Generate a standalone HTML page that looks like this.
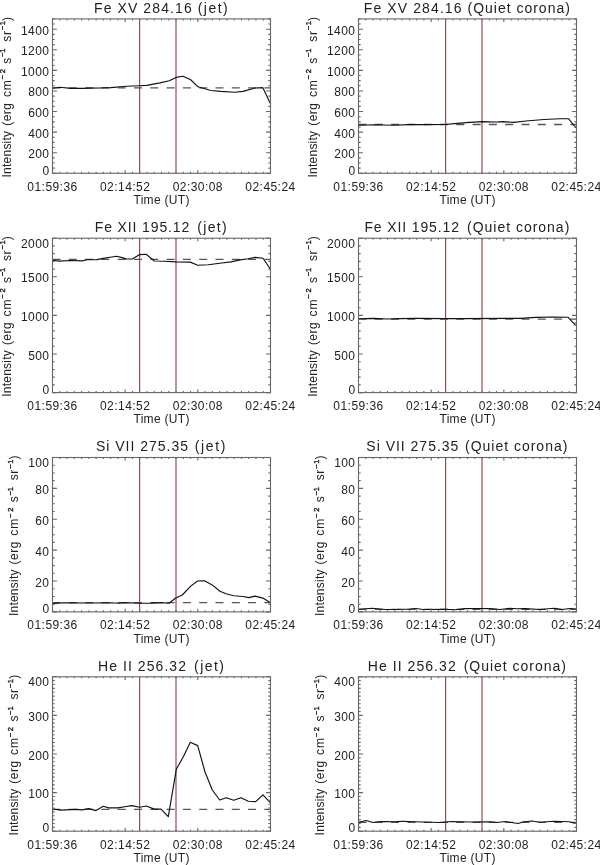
<!DOCTYPE html>
<html><head><meta charset="utf-8"><style>
html,body{margin:0;padding:0;background:#fff;}
svg{display:block;will-change:transform;}
text{font-family:"Liberation Sans", sans-serif;fill:#222;}
.l{font-size:12px;letter-spacing:0.45px;}
.t{font-size:14px;}
.xt{font-size:12px;letter-spacing:0.3px;}
.ys{font-size:7.6px;stroke:#222;stroke-width:0.4px;}
.yt{font-size:12px;}
</style></head><body>
<svg width="600" height="865" viewBox="0 0 600 865">
<rect width="600" height="865" fill="#fff"/>
<line x1="139.6" y1="18.9" x2="139.6" y2="173.3" stroke="#904f4f" stroke-width="1.2"/>
<line x1="176" y1="18.9" x2="176" y2="173.3" stroke="#904f4f" stroke-width="1.2"/>
<line x1="52.5" y1="87.9" x2="270.5" y2="87.9" stroke="#555" stroke-width="1.3" stroke-dasharray="8 8.3"/>
<polyline points="52.5,88.2 60,87.3 70.8,88.4 83.3,88.4 90,88.1 100,88 110.7,87.6 126.7,86.3 139.3,85.7 146.7,85.4 160,82.9 169.3,80.8 176,77.4 182.8,76.2 190.4,79.5 198,86.8 210.8,90.5 221,91.4 234.6,92.2 243.1,91.4 255,88 262.7,87.6 270.3,103.3" fill="none" stroke="#111" stroke-width="1.15" stroke-linejoin="round"/>
<rect x="52.5" y="18.9" width="218" height="154.4" fill="none" stroke="#666" stroke-width="1.1"/>
<path d="M52.5 173.3h4.4M270.5 173.3h-4.4M52.5 168.15h2.2M270.5 168.15h-2.2M52.5 163.01h2.2M270.5 163.01h-2.2M52.5 157.86h2.2M270.5 157.86h-2.2M52.5 152.71h4.4M270.5 152.71h-4.4M52.5 147.57h2.2M270.5 147.57h-2.2M52.5 142.42h2.2M270.5 142.42h-2.2M52.5 137.27h2.2M270.5 137.27h-2.2M52.5 132.13h4.4M270.5 132.13h-4.4M52.5 126.98h2.2M270.5 126.98h-2.2M52.5 121.83h2.2M270.5 121.83h-2.2M52.5 116.69h2.2M270.5 116.69h-2.2M52.5 111.54h4.4M270.5 111.54h-4.4M52.5 106.39h2.2M270.5 106.39h-2.2M52.5 101.25h2.2M270.5 101.25h-2.2M52.5 96.1h2.2M270.5 96.1h-2.2M52.5 90.95h4.4M270.5 90.95h-4.4M52.5 85.81h2.2M270.5 85.81h-2.2M52.5 80.66h2.2M270.5 80.66h-2.2M52.5 75.51h2.2M270.5 75.51h-2.2M52.5 70.37h4.4M270.5 70.37h-4.4M52.5 65.22h2.2M270.5 65.22h-2.2M52.5 60.07h2.2M270.5 60.07h-2.2M52.5 54.93h2.2M270.5 54.93h-2.2M52.5 49.78h4.4M270.5 49.78h-4.4M52.5 44.63h2.2M270.5 44.63h-2.2M52.5 39.49h2.2M270.5 39.49h-2.2M52.5 34.34h2.2M270.5 34.34h-2.2M52.5 29.19h4.4M270.5 29.19h-4.4M52.5 24.05h2.2M270.5 24.05h-2.2M52.5 18.9h2.2M270.5 18.9h-2.2M52.5 173.3v-3.1M52.5 18.9v3.1M59.77 173.3v-1.55M59.77 18.9v1.55M67.03 173.3v-1.55M67.03 18.9v1.55M74.3 173.3v-1.55M74.3 18.9v1.55M81.57 173.3v-1.55M81.57 18.9v1.55M88.83 173.3v-1.55M88.83 18.9v1.55M96.1 173.3v-1.55M96.1 18.9v1.55M103.37 173.3v-1.55M103.37 18.9v1.55M110.63 173.3v-1.55M110.63 18.9v1.55M117.9 173.3v-1.55M117.9 18.9v1.55M125.17 173.3v-3.1M125.17 18.9v3.1M132.43 173.3v-1.55M132.43 18.9v1.55M139.7 173.3v-1.55M139.7 18.9v1.55M146.97 173.3v-1.55M146.97 18.9v1.55M154.23 173.3v-1.55M154.23 18.9v1.55M161.5 173.3v-1.55M161.5 18.9v1.55M168.77 173.3v-1.55M168.77 18.9v1.55M176.03 173.3v-1.55M176.03 18.9v1.55M183.3 173.3v-1.55M183.3 18.9v1.55M190.57 173.3v-1.55M190.57 18.9v1.55M197.83 173.3v-3.1M197.83 18.9v3.1M205.1 173.3v-1.55M205.1 18.9v1.55M212.37 173.3v-1.55M212.37 18.9v1.55M219.63 173.3v-1.55M219.63 18.9v1.55M226.9 173.3v-1.55M226.9 18.9v1.55M234.17 173.3v-1.55M234.17 18.9v1.55M241.43 173.3v-1.55M241.43 18.9v1.55M248.7 173.3v-1.55M248.7 18.9v1.55M255.97 173.3v-1.55M255.97 18.9v1.55M263.23 173.3v-1.55M263.23 18.9v1.55M270.5 173.3v-3.1M270.5 18.9v3.1" stroke="#666" stroke-width="1.1" fill="none"/>
<text x="49.5" y="174.5" text-anchor="end" class="l">0</text>
<text x="49.5" y="158.21" text-anchor="end" class="l">200</text>
<text x="49.5" y="137.63" text-anchor="end" class="l">400</text>
<text x="49.5" y="117.04" text-anchor="end" class="l">600</text>
<text x="49.5" y="96.45" text-anchor="end" class="l">800</text>
<text x="49.5" y="75.87" text-anchor="end" class="l">1000</text>
<text x="49.5" y="55.28" text-anchor="end" class="l">1200</text>
<text x="49.5" y="34.69" text-anchor="end" class="l">1400</text>
<text x="52.5" y="190.8" text-anchor="middle" class="l">01:59:36</text>
<text x="125.17" y="190.8" text-anchor="middle" class="l">02:14:52</text>
<text x="197.83" y="190.8" text-anchor="middle" class="l">02:30:08</text>
<text x="270.5" y="190.8" text-anchor="middle" class="l">02:45:24</text>
<text x="161.6" y="204.1" text-anchor="middle" class="xt">Time (UT)</text>
<text x="94" y="12.6" class="t" textLength="97.7" lengthAdjust="spacing">Fe XV 284.16</text>
<text x="197.7" y="12.6" class="t" textLength="30" lengthAdjust="spacing">(jet)</text>
<text transform="translate(10.6 177.5) rotate(-90)" class="yt" textLength="46.6" lengthAdjust="spacing">Intensity</text>
<text transform="translate(10.6 125.8) rotate(-90)" class="yt" textLength="22.8" lengthAdjust="spacing">(erg</text>
<text transform="translate(10.6 97.1) rotate(-90)" class="yt" textLength="16.9" lengthAdjust="spacing">cm</text>
<text transform="translate(5.4 79.4) rotate(-90)" class="ys" textLength="10.4" lengthAdjust="spacing">−2</text>
<text transform="translate(10.6 63.7) rotate(-90)" class="yt" textLength="5.9" lengthAdjust="spacing">s</text>
<text transform="translate(5.4 57) rotate(-90)" class="ys" textLength="8.6" lengthAdjust="spacing">−1</text>
<text transform="translate(10.6 41.7) rotate(-90)" class="yt" textLength="10.6" lengthAdjust="spacing">sr</text>
<text transform="translate(5.4 30.2) rotate(-90)" class="ys" textLength="9.2" lengthAdjust="spacing">−1</text>
<text transform="translate(10.6 20.9) rotate(-90)" class="yt" textLength="4.7" lengthAdjust="spacing">)</text>
<line x1="445.6" y1="18.9" x2="445.6" y2="173.3" stroke="#904f4f" stroke-width="1.2"/>
<line x1="482" y1="18.9" x2="482" y2="173.3" stroke="#904f4f" stroke-width="1.2"/>
<line x1="358.5" y1="124.5" x2="576.5" y2="124.5" stroke="#555" stroke-width="1.3" stroke-dasharray="8 8.3"/>
<polyline points="358.8,125.3 374.2,124.7 393.3,125.2 408.6,124.6 424,124.6 445,124.5 454.6,123.6 466,122.6 482,121.6 496,122 503,121.6 514,122.4 526,121 544,119.5 560,118.7 568.5,118.7 576,128" fill="none" stroke="#111" stroke-width="1.15" stroke-linejoin="round"/>
<rect x="358.5" y="18.9" width="218" height="154.4" fill="none" stroke="#666" stroke-width="1.1"/>
<path d="M358.5 173.3h4.4M576.5 173.3h-4.4M358.5 168.15h2.2M576.5 168.15h-2.2M358.5 163.01h2.2M576.5 163.01h-2.2M358.5 157.86h2.2M576.5 157.86h-2.2M358.5 152.71h4.4M576.5 152.71h-4.4M358.5 147.57h2.2M576.5 147.57h-2.2M358.5 142.42h2.2M576.5 142.42h-2.2M358.5 137.27h2.2M576.5 137.27h-2.2M358.5 132.13h4.4M576.5 132.13h-4.4M358.5 126.98h2.2M576.5 126.98h-2.2M358.5 121.83h2.2M576.5 121.83h-2.2M358.5 116.69h2.2M576.5 116.69h-2.2M358.5 111.54h4.4M576.5 111.54h-4.4M358.5 106.39h2.2M576.5 106.39h-2.2M358.5 101.25h2.2M576.5 101.25h-2.2M358.5 96.1h2.2M576.5 96.1h-2.2M358.5 90.95h4.4M576.5 90.95h-4.4M358.5 85.81h2.2M576.5 85.81h-2.2M358.5 80.66h2.2M576.5 80.66h-2.2M358.5 75.51h2.2M576.5 75.51h-2.2M358.5 70.37h4.4M576.5 70.37h-4.4M358.5 65.22h2.2M576.5 65.22h-2.2M358.5 60.07h2.2M576.5 60.07h-2.2M358.5 54.93h2.2M576.5 54.93h-2.2M358.5 49.78h4.4M576.5 49.78h-4.4M358.5 44.63h2.2M576.5 44.63h-2.2M358.5 39.49h2.2M576.5 39.49h-2.2M358.5 34.34h2.2M576.5 34.34h-2.2M358.5 29.19h4.4M576.5 29.19h-4.4M358.5 24.05h2.2M576.5 24.05h-2.2M358.5 18.9h2.2M576.5 18.9h-2.2M358.5 173.3v-3.1M358.5 18.9v3.1M365.77 173.3v-1.55M365.77 18.9v1.55M373.03 173.3v-1.55M373.03 18.9v1.55M380.3 173.3v-1.55M380.3 18.9v1.55M387.57 173.3v-1.55M387.57 18.9v1.55M394.83 173.3v-1.55M394.83 18.9v1.55M402.1 173.3v-1.55M402.1 18.9v1.55M409.37 173.3v-1.55M409.37 18.9v1.55M416.63 173.3v-1.55M416.63 18.9v1.55M423.9 173.3v-1.55M423.9 18.9v1.55M431.17 173.3v-3.1M431.17 18.9v3.1M438.43 173.3v-1.55M438.43 18.9v1.55M445.7 173.3v-1.55M445.7 18.9v1.55M452.97 173.3v-1.55M452.97 18.9v1.55M460.23 173.3v-1.55M460.23 18.9v1.55M467.5 173.3v-1.55M467.5 18.9v1.55M474.77 173.3v-1.55M474.77 18.9v1.55M482.03 173.3v-1.55M482.03 18.9v1.55M489.3 173.3v-1.55M489.3 18.9v1.55M496.57 173.3v-1.55M496.57 18.9v1.55M503.83 173.3v-3.1M503.83 18.9v3.1M511.1 173.3v-1.55M511.1 18.9v1.55M518.37 173.3v-1.55M518.37 18.9v1.55M525.63 173.3v-1.55M525.63 18.9v1.55M532.9 173.3v-1.55M532.9 18.9v1.55M540.17 173.3v-1.55M540.17 18.9v1.55M547.43 173.3v-1.55M547.43 18.9v1.55M554.7 173.3v-1.55M554.7 18.9v1.55M561.97 173.3v-1.55M561.97 18.9v1.55M569.23 173.3v-1.55M569.23 18.9v1.55M576.5 173.3v-3.1M576.5 18.9v3.1" stroke="#666" stroke-width="1.1" fill="none"/>
<text x="355.5" y="174.5" text-anchor="end" class="l">0</text>
<text x="355.5" y="158.21" text-anchor="end" class="l">200</text>
<text x="355.5" y="137.63" text-anchor="end" class="l">400</text>
<text x="355.5" y="117.04" text-anchor="end" class="l">600</text>
<text x="355.5" y="96.45" text-anchor="end" class="l">800</text>
<text x="355.5" y="75.87" text-anchor="end" class="l">1000</text>
<text x="355.5" y="55.28" text-anchor="end" class="l">1200</text>
<text x="355.5" y="34.69" text-anchor="end" class="l">1400</text>
<text x="358.5" y="190.8" text-anchor="middle" class="l">01:59:36</text>
<text x="431.17" y="190.8" text-anchor="middle" class="l">02:14:52</text>
<text x="503.83" y="190.8" text-anchor="middle" class="l">02:30:08</text>
<text x="576.5" y="190.8" text-anchor="middle" class="l">02:45:24</text>
<text x="467.6" y="204.1" text-anchor="middle" class="xt">Time (UT)</text>
<text x="363.85" y="12.6" class="t" textLength="97.7" lengthAdjust="spacing">Fe XV 284.16</text>
<text x="467.55" y="12.6" class="t" textLength="102.3" lengthAdjust="spacing">(Quiet corona)</text>
<text transform="translate(316.6 177.5) rotate(-90)" class="yt" textLength="46.6" lengthAdjust="spacing">Intensity</text>
<text transform="translate(316.6 125.8) rotate(-90)" class="yt" textLength="22.8" lengthAdjust="spacing">(erg</text>
<text transform="translate(316.6 97.1) rotate(-90)" class="yt" textLength="16.9" lengthAdjust="spacing">cm</text>
<text transform="translate(311.4 79.4) rotate(-90)" class="ys" textLength="10.4" lengthAdjust="spacing">−2</text>
<text transform="translate(316.6 63.7) rotate(-90)" class="yt" textLength="5.9" lengthAdjust="spacing">s</text>
<text transform="translate(311.4 57) rotate(-90)" class="ys" textLength="8.6" lengthAdjust="spacing">−1</text>
<text transform="translate(316.6 41.7) rotate(-90)" class="yt" textLength="10.6" lengthAdjust="spacing">sr</text>
<text transform="translate(311.4 30.2) rotate(-90)" class="ys" textLength="9.2" lengthAdjust="spacing">−1</text>
<text transform="translate(316.6 20.9) rotate(-90)" class="yt" textLength="4.7" lengthAdjust="spacing">)</text>
<line x1="139.6" y1="238.2" x2="139.6" y2="392.6" stroke="#904f4f" stroke-width="1.2"/>
<line x1="176" y1="238.2" x2="176" y2="392.6" stroke="#904f4f" stroke-width="1.2"/>
<line x1="52.5" y1="259.4" x2="270.5" y2="259.4" stroke="#555" stroke-width="1.3" stroke-dasharray="8 8.3"/>
<polyline points="52.7,260.3 59.3,261.1 70,260.5 82,260.9 87.3,259.7 96.7,259.6 103.3,258.4 110,257.3 116.7,256.3 122,257.6 126,258.9 132.3,259 139.7,254.6 146.3,254.3 154.3,261 165,261.3 175.7,261.9 190.3,262.1 197.7,265.3 208.3,264.7 221.7,263 231,261.9 240.3,259.9 248.3,258.7 255,257.4 263,258.3 270.3,269" fill="none" stroke="#111" stroke-width="1.15" stroke-linejoin="round"/>
<rect x="52.5" y="238.2" width="218" height="154.4" fill="none" stroke="#666" stroke-width="1.1"/>
<path d="M52.5 392.6h4.4M270.5 392.6h-4.4M52.5 384.88h2.2M270.5 384.88h-2.2M52.5 377.16h2.2M270.5 377.16h-2.2M52.5 369.44h2.2M270.5 369.44h-2.2M52.5 361.72h2.2M270.5 361.72h-2.2M52.5 354h4.4M270.5 354h-4.4M52.5 346.28h2.2M270.5 346.28h-2.2M52.5 338.56h2.2M270.5 338.56h-2.2M52.5 330.84h2.2M270.5 330.84h-2.2M52.5 323.12h2.2M270.5 323.12h-2.2M52.5 315.4h4.4M270.5 315.4h-4.4M52.5 307.68h2.2M270.5 307.68h-2.2M52.5 299.96h2.2M270.5 299.96h-2.2M52.5 292.24h2.2M270.5 292.24h-2.2M52.5 284.52h2.2M270.5 284.52h-2.2M52.5 276.8h4.4M270.5 276.8h-4.4M52.5 269.08h2.2M270.5 269.08h-2.2M52.5 261.36h2.2M270.5 261.36h-2.2M52.5 253.64h2.2M270.5 253.64h-2.2M52.5 245.92h2.2M270.5 245.92h-2.2M52.5 238.2h4.4M270.5 238.2h-4.4M52.5 392.6v-3.1M52.5 238.2v3.1M59.77 392.6v-1.55M59.77 238.2v1.55M67.03 392.6v-1.55M67.03 238.2v1.55M74.3 392.6v-1.55M74.3 238.2v1.55M81.57 392.6v-1.55M81.57 238.2v1.55M88.83 392.6v-1.55M88.83 238.2v1.55M96.1 392.6v-1.55M96.1 238.2v1.55M103.37 392.6v-1.55M103.37 238.2v1.55M110.63 392.6v-1.55M110.63 238.2v1.55M117.9 392.6v-1.55M117.9 238.2v1.55M125.17 392.6v-3.1M125.17 238.2v3.1M132.43 392.6v-1.55M132.43 238.2v1.55M139.7 392.6v-1.55M139.7 238.2v1.55M146.97 392.6v-1.55M146.97 238.2v1.55M154.23 392.6v-1.55M154.23 238.2v1.55M161.5 392.6v-1.55M161.5 238.2v1.55M168.77 392.6v-1.55M168.77 238.2v1.55M176.03 392.6v-1.55M176.03 238.2v1.55M183.3 392.6v-1.55M183.3 238.2v1.55M190.57 392.6v-1.55M190.57 238.2v1.55M197.83 392.6v-3.1M197.83 238.2v3.1M205.1 392.6v-1.55M205.1 238.2v1.55M212.37 392.6v-1.55M212.37 238.2v1.55M219.63 392.6v-1.55M219.63 238.2v1.55M226.9 392.6v-1.55M226.9 238.2v1.55M234.17 392.6v-1.55M234.17 238.2v1.55M241.43 392.6v-1.55M241.43 238.2v1.55M248.7 392.6v-1.55M248.7 238.2v1.55M255.97 392.6v-1.55M255.97 238.2v1.55M263.23 392.6v-1.55M263.23 238.2v1.55M270.5 392.6v-3.1M270.5 238.2v3.1" stroke="#666" stroke-width="1.1" fill="none"/>
<text x="49.5" y="393.8" text-anchor="end" class="l">0</text>
<text x="49.5" y="359.5" text-anchor="end" class="l">500</text>
<text x="49.5" y="320.9" text-anchor="end" class="l">1000</text>
<text x="49.5" y="282.3" text-anchor="end" class="l">1500</text>
<text x="49.5" y="247.7" text-anchor="end" class="l">2000</text>
<text x="52.5" y="410.1" text-anchor="middle" class="l">01:59:36</text>
<text x="125.17" y="410.1" text-anchor="middle" class="l">02:14:52</text>
<text x="197.83" y="410.1" text-anchor="middle" class="l">02:30:08</text>
<text x="270.5" y="410.1" text-anchor="middle" class="l">02:45:24</text>
<text x="161.6" y="423.4" text-anchor="middle" class="xt">Time (UT)</text>
<text x="94.7" y="231.9" class="t" textLength="94.6" lengthAdjust="spacing">Fe XII 195.12</text>
<text x="197.3" y="231.9" class="t" textLength="29.4" lengthAdjust="spacing">(jet)</text>
<text transform="translate(10.6 396.8) rotate(-90)" class="yt" textLength="46.6" lengthAdjust="spacing">Intensity</text>
<text transform="translate(10.6 345.1) rotate(-90)" class="yt" textLength="22.8" lengthAdjust="spacing">(erg</text>
<text transform="translate(10.6 316.4) rotate(-90)" class="yt" textLength="16.9" lengthAdjust="spacing">cm</text>
<text transform="translate(5.4 298.7) rotate(-90)" class="ys" textLength="10.4" lengthAdjust="spacing">−2</text>
<text transform="translate(10.6 283) rotate(-90)" class="yt" textLength="5.9" lengthAdjust="spacing">s</text>
<text transform="translate(5.4 276.3) rotate(-90)" class="ys" textLength="8.6" lengthAdjust="spacing">−1</text>
<text transform="translate(10.6 261) rotate(-90)" class="yt" textLength="10.6" lengthAdjust="spacing">sr</text>
<text transform="translate(5.4 249.5) rotate(-90)" class="ys" textLength="9.2" lengthAdjust="spacing">−1</text>
<text transform="translate(10.6 240.2) rotate(-90)" class="yt" textLength="4.7" lengthAdjust="spacing">)</text>
<line x1="445.6" y1="238.2" x2="445.6" y2="392.6" stroke="#904f4f" stroke-width="1.2"/>
<line x1="482" y1="238.2" x2="482" y2="392.6" stroke="#904f4f" stroke-width="1.2"/>
<line x1="358.5" y1="319.1" x2="576.5" y2="319.1" stroke="#555" stroke-width="1.3" stroke-dasharray="8 8.3"/>
<polyline points="358.8,318.8 374,318.4 387,319 400,318.6 416,318.4 445,318.6 460,318.6 520,318.4 536,317.4 553,317 568,317.2 575.7,325.7" fill="none" stroke="#111" stroke-width="1.15" stroke-linejoin="round"/>
<rect x="358.5" y="238.2" width="218" height="154.4" fill="none" stroke="#666" stroke-width="1.1"/>
<path d="M358.5 392.6h4.4M576.5 392.6h-4.4M358.5 384.88h2.2M576.5 384.88h-2.2M358.5 377.16h2.2M576.5 377.16h-2.2M358.5 369.44h2.2M576.5 369.44h-2.2M358.5 361.72h2.2M576.5 361.72h-2.2M358.5 354h4.4M576.5 354h-4.4M358.5 346.28h2.2M576.5 346.28h-2.2M358.5 338.56h2.2M576.5 338.56h-2.2M358.5 330.84h2.2M576.5 330.84h-2.2M358.5 323.12h2.2M576.5 323.12h-2.2M358.5 315.4h4.4M576.5 315.4h-4.4M358.5 307.68h2.2M576.5 307.68h-2.2M358.5 299.96h2.2M576.5 299.96h-2.2M358.5 292.24h2.2M576.5 292.24h-2.2M358.5 284.52h2.2M576.5 284.52h-2.2M358.5 276.8h4.4M576.5 276.8h-4.4M358.5 269.08h2.2M576.5 269.08h-2.2M358.5 261.36h2.2M576.5 261.36h-2.2M358.5 253.64h2.2M576.5 253.64h-2.2M358.5 245.92h2.2M576.5 245.92h-2.2M358.5 238.2h4.4M576.5 238.2h-4.4M358.5 392.6v-3.1M358.5 238.2v3.1M365.77 392.6v-1.55M365.77 238.2v1.55M373.03 392.6v-1.55M373.03 238.2v1.55M380.3 392.6v-1.55M380.3 238.2v1.55M387.57 392.6v-1.55M387.57 238.2v1.55M394.83 392.6v-1.55M394.83 238.2v1.55M402.1 392.6v-1.55M402.1 238.2v1.55M409.37 392.6v-1.55M409.37 238.2v1.55M416.63 392.6v-1.55M416.63 238.2v1.55M423.9 392.6v-1.55M423.9 238.2v1.55M431.17 392.6v-3.1M431.17 238.2v3.1M438.43 392.6v-1.55M438.43 238.2v1.55M445.7 392.6v-1.55M445.7 238.2v1.55M452.97 392.6v-1.55M452.97 238.2v1.55M460.23 392.6v-1.55M460.23 238.2v1.55M467.5 392.6v-1.55M467.5 238.2v1.55M474.77 392.6v-1.55M474.77 238.2v1.55M482.03 392.6v-1.55M482.03 238.2v1.55M489.3 392.6v-1.55M489.3 238.2v1.55M496.57 392.6v-1.55M496.57 238.2v1.55M503.83 392.6v-3.1M503.83 238.2v3.1M511.1 392.6v-1.55M511.1 238.2v1.55M518.37 392.6v-1.55M518.37 238.2v1.55M525.63 392.6v-1.55M525.63 238.2v1.55M532.9 392.6v-1.55M532.9 238.2v1.55M540.17 392.6v-1.55M540.17 238.2v1.55M547.43 392.6v-1.55M547.43 238.2v1.55M554.7 392.6v-1.55M554.7 238.2v1.55M561.97 392.6v-1.55M561.97 238.2v1.55M569.23 392.6v-1.55M569.23 238.2v1.55M576.5 392.6v-3.1M576.5 238.2v3.1" stroke="#666" stroke-width="1.1" fill="none"/>
<text x="355.5" y="393.8" text-anchor="end" class="l">0</text>
<text x="355.5" y="359.5" text-anchor="end" class="l">500</text>
<text x="355.5" y="320.9" text-anchor="end" class="l">1000</text>
<text x="355.5" y="282.3" text-anchor="end" class="l">1500</text>
<text x="355.5" y="247.7" text-anchor="end" class="l">2000</text>
<text x="358.5" y="410.1" text-anchor="middle" class="l">01:59:36</text>
<text x="431.17" y="410.1" text-anchor="middle" class="l">02:14:52</text>
<text x="503.83" y="410.1" text-anchor="middle" class="l">02:30:08</text>
<text x="576.5" y="410.1" text-anchor="middle" class="l">02:45:24</text>
<text x="467.6" y="423.4" text-anchor="middle" class="xt">Time (UT)</text>
<text x="364.4" y="231.9" class="t" textLength="94.6" lengthAdjust="spacing">Fe XII 195.12</text>
<text x="467" y="231.9" class="t" textLength="102.3" lengthAdjust="spacing">(Quiet corona)</text>
<text transform="translate(316.6 396.8) rotate(-90)" class="yt" textLength="46.6" lengthAdjust="spacing">Intensity</text>
<text transform="translate(316.6 345.1) rotate(-90)" class="yt" textLength="22.8" lengthAdjust="spacing">(erg</text>
<text transform="translate(316.6 316.4) rotate(-90)" class="yt" textLength="16.9" lengthAdjust="spacing">cm</text>
<text transform="translate(311.4 298.7) rotate(-90)" class="ys" textLength="10.4" lengthAdjust="spacing">−2</text>
<text transform="translate(316.6 283) rotate(-90)" class="yt" textLength="5.9" lengthAdjust="spacing">s</text>
<text transform="translate(311.4 276.3) rotate(-90)" class="ys" textLength="8.6" lengthAdjust="spacing">−1</text>
<text transform="translate(316.6 261) rotate(-90)" class="yt" textLength="10.6" lengthAdjust="spacing">sr</text>
<text transform="translate(311.4 249.5) rotate(-90)" class="ys" textLength="9.2" lengthAdjust="spacing">−1</text>
<text transform="translate(316.6 240.2) rotate(-90)" class="yt" textLength="4.7" lengthAdjust="spacing">)</text>
<line x1="139.6" y1="457.5" x2="139.6" y2="611.9" stroke="#904f4f" stroke-width="1.2"/>
<line x1="176" y1="457.5" x2="176" y2="611.9" stroke="#904f4f" stroke-width="1.2"/>
<line x1="52.5" y1="602.7" x2="270.5" y2="602.7" stroke="#555" stroke-width="1.3" stroke-dasharray="8 8.3"/>
<polyline points="52.7,603.6 63.3,602.8 90,603 110,602.8 119.3,603.3 125,602.6 139.7,603.3 151.7,603.1 161,602.6 169,603.3 175.7,598 182.3,595 190.7,586.1 197.6,581 204.5,580.7 212.2,584.9 219.9,591.2 226,593.8 233.7,595.8 242.9,596.5 249,597.6 255.1,596.1 262.8,598.1 269.7,602.2" fill="none" stroke="#111" stroke-width="1.15" stroke-linejoin="round"/>
<rect x="52.5" y="457.5" width="218" height="154.4" fill="none" stroke="#666" stroke-width="1.1"/>
<path d="M52.5 611.9h4.4M270.5 611.9h-4.4M52.5 604.18h2.2M270.5 604.18h-2.2M52.5 596.46h2.2M270.5 596.46h-2.2M52.5 588.74h2.2M270.5 588.74h-2.2M52.5 581.02h4.4M270.5 581.02h-4.4M52.5 573.3h2.2M270.5 573.3h-2.2M52.5 565.58h2.2M270.5 565.58h-2.2M52.5 557.86h2.2M270.5 557.86h-2.2M52.5 550.14h4.4M270.5 550.14h-4.4M52.5 542.42h2.2M270.5 542.42h-2.2M52.5 534.7h2.2M270.5 534.7h-2.2M52.5 526.98h2.2M270.5 526.98h-2.2M52.5 519.26h4.4M270.5 519.26h-4.4M52.5 511.54h2.2M270.5 511.54h-2.2M52.5 503.82h2.2M270.5 503.82h-2.2M52.5 496.1h2.2M270.5 496.1h-2.2M52.5 488.38h4.4M270.5 488.38h-4.4M52.5 480.66h2.2M270.5 480.66h-2.2M52.5 472.94h2.2M270.5 472.94h-2.2M52.5 465.22h2.2M270.5 465.22h-2.2M52.5 457.5h4.4M270.5 457.5h-4.4M52.5 611.9v-3.1M52.5 457.5v3.1M59.77 611.9v-1.55M59.77 457.5v1.55M67.03 611.9v-1.55M67.03 457.5v1.55M74.3 611.9v-1.55M74.3 457.5v1.55M81.57 611.9v-1.55M81.57 457.5v1.55M88.83 611.9v-1.55M88.83 457.5v1.55M96.1 611.9v-1.55M96.1 457.5v1.55M103.37 611.9v-1.55M103.37 457.5v1.55M110.63 611.9v-1.55M110.63 457.5v1.55M117.9 611.9v-1.55M117.9 457.5v1.55M125.17 611.9v-3.1M125.17 457.5v3.1M132.43 611.9v-1.55M132.43 457.5v1.55M139.7 611.9v-1.55M139.7 457.5v1.55M146.97 611.9v-1.55M146.97 457.5v1.55M154.23 611.9v-1.55M154.23 457.5v1.55M161.5 611.9v-1.55M161.5 457.5v1.55M168.77 611.9v-1.55M168.77 457.5v1.55M176.03 611.9v-1.55M176.03 457.5v1.55M183.3 611.9v-1.55M183.3 457.5v1.55M190.57 611.9v-1.55M190.57 457.5v1.55M197.83 611.9v-3.1M197.83 457.5v3.1M205.1 611.9v-1.55M205.1 457.5v1.55M212.37 611.9v-1.55M212.37 457.5v1.55M219.63 611.9v-1.55M219.63 457.5v1.55M226.9 611.9v-1.55M226.9 457.5v1.55M234.17 611.9v-1.55M234.17 457.5v1.55M241.43 611.9v-1.55M241.43 457.5v1.55M248.7 611.9v-1.55M248.7 457.5v1.55M255.97 611.9v-1.55M255.97 457.5v1.55M263.23 611.9v-1.55M263.23 457.5v1.55M270.5 611.9v-3.1M270.5 457.5v3.1" stroke="#666" stroke-width="1.1" fill="none"/>
<text x="49.5" y="613.1" text-anchor="end" class="l">0</text>
<text x="49.5" y="586.52" text-anchor="end" class="l">20</text>
<text x="49.5" y="555.64" text-anchor="end" class="l">40</text>
<text x="49.5" y="524.76" text-anchor="end" class="l">60</text>
<text x="49.5" y="493.88" text-anchor="end" class="l">80</text>
<text x="49.5" y="467" text-anchor="end" class="l">100</text>
<text x="52.5" y="629.4" text-anchor="middle" class="l">01:59:36</text>
<text x="125.17" y="629.4" text-anchor="middle" class="l">02:14:52</text>
<text x="197.83" y="629.4" text-anchor="middle" class="l">02:30:08</text>
<text x="270.5" y="629.4" text-anchor="middle" class="l">02:45:24</text>
<text x="161.6" y="642.7" text-anchor="middle" class="xt">Time (UT)</text>
<text x="96" y="451.2" class="t" textLength="92" lengthAdjust="spacing">Si VII 275.35</text>
<text x="194.7" y="451.2" class="t" textLength="30.6" lengthAdjust="spacing">(jet)</text>
<text transform="translate(17.7 616.1) rotate(-90)" class="yt" textLength="46.6" lengthAdjust="spacing">Intensity</text>
<text transform="translate(17.7 564.4) rotate(-90)" class="yt" textLength="22.8" lengthAdjust="spacing">(erg</text>
<text transform="translate(17.7 535.7) rotate(-90)" class="yt" textLength="16.9" lengthAdjust="spacing">cm</text>
<text transform="translate(12.5 518) rotate(-90)" class="ys" textLength="10.4" lengthAdjust="spacing">−2</text>
<text transform="translate(17.7 502.3) rotate(-90)" class="yt" textLength="5.9" lengthAdjust="spacing">s</text>
<text transform="translate(12.5 495.6) rotate(-90)" class="ys" textLength="8.6" lengthAdjust="spacing">−1</text>
<text transform="translate(17.7 480.3) rotate(-90)" class="yt" textLength="10.6" lengthAdjust="spacing">sr</text>
<text transform="translate(12.5 468.8) rotate(-90)" class="ys" textLength="9.2" lengthAdjust="spacing">−1</text>
<text transform="translate(17.7 459.5) rotate(-90)" class="yt" textLength="4.7" lengthAdjust="spacing">)</text>
<line x1="445.6" y1="457.5" x2="445.6" y2="611.9" stroke="#904f4f" stroke-width="1.2"/>
<line x1="482" y1="457.5" x2="482" y2="611.9" stroke="#904f4f" stroke-width="1.2"/>
<line x1="358.5" y1="609.3" x2="576.5" y2="609.3" stroke="#555" stroke-width="1.3" stroke-dasharray="8 8.3"/>
<polyline points="358.8,609.2 372,608.2 385,609.5 398,609.4 410,609 416,608.5 423,609.5 445,609.2 455,609.8 465,608.6 480,608.5 490,608.6 500,609.5 510,608.3 517,608.8 525,608.6 540,609.5 554,608.3 562,609.5 570,608.5 576,609" fill="none" stroke="#111" stroke-width="1.15" stroke-linejoin="round"/>
<rect x="358.5" y="457.5" width="218" height="154.4" fill="none" stroke="#666" stroke-width="1.1"/>
<path d="M358.5 611.9h4.4M576.5 611.9h-4.4M358.5 604.18h2.2M576.5 604.18h-2.2M358.5 596.46h2.2M576.5 596.46h-2.2M358.5 588.74h2.2M576.5 588.74h-2.2M358.5 581.02h4.4M576.5 581.02h-4.4M358.5 573.3h2.2M576.5 573.3h-2.2M358.5 565.58h2.2M576.5 565.58h-2.2M358.5 557.86h2.2M576.5 557.86h-2.2M358.5 550.14h4.4M576.5 550.14h-4.4M358.5 542.42h2.2M576.5 542.42h-2.2M358.5 534.7h2.2M576.5 534.7h-2.2M358.5 526.98h2.2M576.5 526.98h-2.2M358.5 519.26h4.4M576.5 519.26h-4.4M358.5 511.54h2.2M576.5 511.54h-2.2M358.5 503.82h2.2M576.5 503.82h-2.2M358.5 496.1h2.2M576.5 496.1h-2.2M358.5 488.38h4.4M576.5 488.38h-4.4M358.5 480.66h2.2M576.5 480.66h-2.2M358.5 472.94h2.2M576.5 472.94h-2.2M358.5 465.22h2.2M576.5 465.22h-2.2M358.5 457.5h4.4M576.5 457.5h-4.4M358.5 611.9v-3.1M358.5 457.5v3.1M365.77 611.9v-1.55M365.77 457.5v1.55M373.03 611.9v-1.55M373.03 457.5v1.55M380.3 611.9v-1.55M380.3 457.5v1.55M387.57 611.9v-1.55M387.57 457.5v1.55M394.83 611.9v-1.55M394.83 457.5v1.55M402.1 611.9v-1.55M402.1 457.5v1.55M409.37 611.9v-1.55M409.37 457.5v1.55M416.63 611.9v-1.55M416.63 457.5v1.55M423.9 611.9v-1.55M423.9 457.5v1.55M431.17 611.9v-3.1M431.17 457.5v3.1M438.43 611.9v-1.55M438.43 457.5v1.55M445.7 611.9v-1.55M445.7 457.5v1.55M452.97 611.9v-1.55M452.97 457.5v1.55M460.23 611.9v-1.55M460.23 457.5v1.55M467.5 611.9v-1.55M467.5 457.5v1.55M474.77 611.9v-1.55M474.77 457.5v1.55M482.03 611.9v-1.55M482.03 457.5v1.55M489.3 611.9v-1.55M489.3 457.5v1.55M496.57 611.9v-1.55M496.57 457.5v1.55M503.83 611.9v-3.1M503.83 457.5v3.1M511.1 611.9v-1.55M511.1 457.5v1.55M518.37 611.9v-1.55M518.37 457.5v1.55M525.63 611.9v-1.55M525.63 457.5v1.55M532.9 611.9v-1.55M532.9 457.5v1.55M540.17 611.9v-1.55M540.17 457.5v1.55M547.43 611.9v-1.55M547.43 457.5v1.55M554.7 611.9v-1.55M554.7 457.5v1.55M561.97 611.9v-1.55M561.97 457.5v1.55M569.23 611.9v-1.55M569.23 457.5v1.55M576.5 611.9v-3.1M576.5 457.5v3.1" stroke="#666" stroke-width="1.1" fill="none"/>
<text x="355.5" y="613.1" text-anchor="end" class="l">0</text>
<text x="355.5" y="586.52" text-anchor="end" class="l">20</text>
<text x="355.5" y="555.64" text-anchor="end" class="l">40</text>
<text x="355.5" y="524.76" text-anchor="end" class="l">60</text>
<text x="355.5" y="493.88" text-anchor="end" class="l">80</text>
<text x="355.5" y="467" text-anchor="end" class="l">100</text>
<text x="358.5" y="629.4" text-anchor="middle" class="l">01:59:36</text>
<text x="431.17" y="629.4" text-anchor="middle" class="l">02:14:52</text>
<text x="503.83" y="629.4" text-anchor="middle" class="l">02:30:08</text>
<text x="576.5" y="629.4" text-anchor="middle" class="l">02:45:24</text>
<text x="467.6" y="642.7" text-anchor="middle" class="xt">Time (UT)</text>
<text x="366.35" y="451.2" class="t" textLength="92" lengthAdjust="spacing">Si VII 275.35</text>
<text x="465.05" y="451.2" class="t" textLength="102.3" lengthAdjust="spacing">(Quiet corona)</text>
<text transform="translate(323.7 616.1) rotate(-90)" class="yt" textLength="46.6" lengthAdjust="spacing">Intensity</text>
<text transform="translate(323.7 564.4) rotate(-90)" class="yt" textLength="22.8" lengthAdjust="spacing">(erg</text>
<text transform="translate(323.7 535.7) rotate(-90)" class="yt" textLength="16.9" lengthAdjust="spacing">cm</text>
<text transform="translate(318.5 518) rotate(-90)" class="ys" textLength="10.4" lengthAdjust="spacing">−2</text>
<text transform="translate(323.7 502.3) rotate(-90)" class="yt" textLength="5.9" lengthAdjust="spacing">s</text>
<text transform="translate(318.5 495.6) rotate(-90)" class="ys" textLength="8.6" lengthAdjust="spacing">−1</text>
<text transform="translate(323.7 480.3) rotate(-90)" class="yt" textLength="10.6" lengthAdjust="spacing">sr</text>
<text transform="translate(318.5 468.8) rotate(-90)" class="ys" textLength="9.2" lengthAdjust="spacing">−1</text>
<text transform="translate(323.7 459.5) rotate(-90)" class="yt" textLength="4.7" lengthAdjust="spacing">)</text>
<line x1="139.6" y1="676.8" x2="139.6" y2="831.2" stroke="#904f4f" stroke-width="1.2"/>
<line x1="176" y1="676.8" x2="176" y2="831.2" stroke="#904f4f" stroke-width="1.2"/>
<line x1="52.5" y1="809.3" x2="270.5" y2="809.3" stroke="#555" stroke-width="1.3" stroke-dasharray="8 8.3"/>
<polyline points="52.7,809 60.7,810.1 76.7,809.4 82,809.9 88.7,808.6 96,810.6 103.3,806.3 108.7,807.9 118,807.9 124.7,806.7 131.7,805.6 139.7,807.3 146.3,806 154.3,809.1 161,809.1 168.3,816.7 176.3,769.3 183.7,756 190.3,742.3 197.7,745.6 205,772 212.3,790 219.7,800 226.3,797.7 233.7,800.3 241,797.7 248.3,801.3 255.7,801.6 263,794.9 270,802.4" fill="none" stroke="#111" stroke-width="1.15" stroke-linejoin="round"/>
<rect x="52.5" y="676.8" width="218" height="154.4" fill="none" stroke="#666" stroke-width="1.1"/>
<path d="M52.5 831.2h4.4M270.5 831.2h-4.4M52.5 827.34h2.2M270.5 827.34h-2.2M52.5 823.48h2.2M270.5 823.48h-2.2M52.5 819.62h2.2M270.5 819.62h-2.2M52.5 815.76h2.2M270.5 815.76h-2.2M52.5 811.9h2.2M270.5 811.9h-2.2M52.5 808.04h2.2M270.5 808.04h-2.2M52.5 804.18h2.2M270.5 804.18h-2.2M52.5 800.32h2.2M270.5 800.32h-2.2M52.5 796.46h2.2M270.5 796.46h-2.2M52.5 792.6h4.4M270.5 792.6h-4.4M52.5 788.74h2.2M270.5 788.74h-2.2M52.5 784.88h2.2M270.5 784.88h-2.2M52.5 781.02h2.2M270.5 781.02h-2.2M52.5 777.16h2.2M270.5 777.16h-2.2M52.5 773.3h2.2M270.5 773.3h-2.2M52.5 769.44h2.2M270.5 769.44h-2.2M52.5 765.58h2.2M270.5 765.58h-2.2M52.5 761.72h2.2M270.5 761.72h-2.2M52.5 757.86h2.2M270.5 757.86h-2.2M52.5 754h4.4M270.5 754h-4.4M52.5 750.14h2.2M270.5 750.14h-2.2M52.5 746.28h2.2M270.5 746.28h-2.2M52.5 742.42h2.2M270.5 742.42h-2.2M52.5 738.56h2.2M270.5 738.56h-2.2M52.5 734.7h2.2M270.5 734.7h-2.2M52.5 730.84h2.2M270.5 730.84h-2.2M52.5 726.98h2.2M270.5 726.98h-2.2M52.5 723.12h2.2M270.5 723.12h-2.2M52.5 719.26h2.2M270.5 719.26h-2.2M52.5 715.4h4.4M270.5 715.4h-4.4M52.5 711.54h2.2M270.5 711.54h-2.2M52.5 707.68h2.2M270.5 707.68h-2.2M52.5 703.82h2.2M270.5 703.82h-2.2M52.5 699.96h2.2M270.5 699.96h-2.2M52.5 696.1h2.2M270.5 696.1h-2.2M52.5 692.24h2.2M270.5 692.24h-2.2M52.5 688.38h2.2M270.5 688.38h-2.2M52.5 684.52h2.2M270.5 684.52h-2.2M52.5 680.66h2.2M270.5 680.66h-2.2M52.5 676.8h4.4M270.5 676.8h-4.4M52.5 831.2v-3.1M52.5 676.8v3.1M59.77 831.2v-1.55M59.77 676.8v1.55M67.03 831.2v-1.55M67.03 676.8v1.55M74.3 831.2v-1.55M74.3 676.8v1.55M81.57 831.2v-1.55M81.57 676.8v1.55M88.83 831.2v-1.55M88.83 676.8v1.55M96.1 831.2v-1.55M96.1 676.8v1.55M103.37 831.2v-1.55M103.37 676.8v1.55M110.63 831.2v-1.55M110.63 676.8v1.55M117.9 831.2v-1.55M117.9 676.8v1.55M125.17 831.2v-3.1M125.17 676.8v3.1M132.43 831.2v-1.55M132.43 676.8v1.55M139.7 831.2v-1.55M139.7 676.8v1.55M146.97 831.2v-1.55M146.97 676.8v1.55M154.23 831.2v-1.55M154.23 676.8v1.55M161.5 831.2v-1.55M161.5 676.8v1.55M168.77 831.2v-1.55M168.77 676.8v1.55M176.03 831.2v-1.55M176.03 676.8v1.55M183.3 831.2v-1.55M183.3 676.8v1.55M190.57 831.2v-1.55M190.57 676.8v1.55M197.83 831.2v-3.1M197.83 676.8v3.1M205.1 831.2v-1.55M205.1 676.8v1.55M212.37 831.2v-1.55M212.37 676.8v1.55M219.63 831.2v-1.55M219.63 676.8v1.55M226.9 831.2v-1.55M226.9 676.8v1.55M234.17 831.2v-1.55M234.17 676.8v1.55M241.43 831.2v-1.55M241.43 676.8v1.55M248.7 831.2v-1.55M248.7 676.8v1.55M255.97 831.2v-1.55M255.97 676.8v1.55M263.23 831.2v-1.55M263.23 676.8v1.55M270.5 831.2v-3.1M270.5 676.8v3.1" stroke="#666" stroke-width="1.1" fill="none"/>
<text x="49.5" y="832.4" text-anchor="end" class="l">0</text>
<text x="49.5" y="798.1" text-anchor="end" class="l">100</text>
<text x="49.5" y="759.5" text-anchor="end" class="l">200</text>
<text x="49.5" y="720.9" text-anchor="end" class="l">300</text>
<text x="49.5" y="686.3" text-anchor="end" class="l">400</text>
<text x="52.5" y="848.7" text-anchor="middle" class="l">01:59:36</text>
<text x="125.17" y="848.7" text-anchor="middle" class="l">02:14:52</text>
<text x="197.83" y="848.7" text-anchor="middle" class="l">02:30:08</text>
<text x="270.5" y="848.7" text-anchor="middle" class="l">02:45:24</text>
<text x="161.6" y="862" text-anchor="middle" class="xt">Time (UT)</text>
<text x="98" y="670.5" class="t" textLength="88" lengthAdjust="spacing">He II 256.32</text>
<text x="194" y="670.5" class="t" textLength="30" lengthAdjust="spacing">(jet)</text>
<text transform="translate(17.7 835.4) rotate(-90)" class="yt" textLength="46.6" lengthAdjust="spacing">Intensity</text>
<text transform="translate(17.7 783.7) rotate(-90)" class="yt" textLength="22.8" lengthAdjust="spacing">(erg</text>
<text transform="translate(17.7 755) rotate(-90)" class="yt" textLength="16.9" lengthAdjust="spacing">cm</text>
<text transform="translate(12.5 737.3) rotate(-90)" class="ys" textLength="10.4" lengthAdjust="spacing">−2</text>
<text transform="translate(17.7 721.6) rotate(-90)" class="yt" textLength="5.9" lengthAdjust="spacing">s</text>
<text transform="translate(12.5 714.9) rotate(-90)" class="ys" textLength="8.6" lengthAdjust="spacing">−1</text>
<text transform="translate(17.7 699.6) rotate(-90)" class="yt" textLength="10.6" lengthAdjust="spacing">sr</text>
<text transform="translate(12.5 688.1) rotate(-90)" class="ys" textLength="9.2" lengthAdjust="spacing">−1</text>
<text transform="translate(17.7 678.8) rotate(-90)" class="yt" textLength="4.7" lengthAdjust="spacing">)</text>
<line x1="445.6" y1="676.8" x2="445.6" y2="831.2" stroke="#904f4f" stroke-width="1.2"/>
<line x1="482" y1="676.8" x2="482" y2="831.2" stroke="#904f4f" stroke-width="1.2"/>
<line x1="358.5" y1="822.3" x2="576.5" y2="822.3" stroke="#555" stroke-width="1.3" stroke-dasharray="8 8.3"/>
<polyline points="359,822.2 366,820.5 373,822.5 378,821.7 385,821.5 395,821.8 402,821.3 415,821.8 440,822.5 452,821.5 470,822 490,821.7 497,822.5 505,821.5 518,823.5 524,821.7 532,821 540,822.2 554,821.3 569,821.7 575.5,823.5" fill="none" stroke="#111" stroke-width="1.15" stroke-linejoin="round"/>
<rect x="358.5" y="676.8" width="218" height="154.4" fill="none" stroke="#666" stroke-width="1.1"/>
<path d="M358.5 831.2h4.4M576.5 831.2h-4.4M358.5 827.34h2.2M576.5 827.34h-2.2M358.5 823.48h2.2M576.5 823.48h-2.2M358.5 819.62h2.2M576.5 819.62h-2.2M358.5 815.76h2.2M576.5 815.76h-2.2M358.5 811.9h2.2M576.5 811.9h-2.2M358.5 808.04h2.2M576.5 808.04h-2.2M358.5 804.18h2.2M576.5 804.18h-2.2M358.5 800.32h2.2M576.5 800.32h-2.2M358.5 796.46h2.2M576.5 796.46h-2.2M358.5 792.6h4.4M576.5 792.6h-4.4M358.5 788.74h2.2M576.5 788.74h-2.2M358.5 784.88h2.2M576.5 784.88h-2.2M358.5 781.02h2.2M576.5 781.02h-2.2M358.5 777.16h2.2M576.5 777.16h-2.2M358.5 773.3h2.2M576.5 773.3h-2.2M358.5 769.44h2.2M576.5 769.44h-2.2M358.5 765.58h2.2M576.5 765.58h-2.2M358.5 761.72h2.2M576.5 761.72h-2.2M358.5 757.86h2.2M576.5 757.86h-2.2M358.5 754h4.4M576.5 754h-4.4M358.5 750.14h2.2M576.5 750.14h-2.2M358.5 746.28h2.2M576.5 746.28h-2.2M358.5 742.42h2.2M576.5 742.42h-2.2M358.5 738.56h2.2M576.5 738.56h-2.2M358.5 734.7h2.2M576.5 734.7h-2.2M358.5 730.84h2.2M576.5 730.84h-2.2M358.5 726.98h2.2M576.5 726.98h-2.2M358.5 723.12h2.2M576.5 723.12h-2.2M358.5 719.26h2.2M576.5 719.26h-2.2M358.5 715.4h4.4M576.5 715.4h-4.4M358.5 711.54h2.2M576.5 711.54h-2.2M358.5 707.68h2.2M576.5 707.68h-2.2M358.5 703.82h2.2M576.5 703.82h-2.2M358.5 699.96h2.2M576.5 699.96h-2.2M358.5 696.1h2.2M576.5 696.1h-2.2M358.5 692.24h2.2M576.5 692.24h-2.2M358.5 688.38h2.2M576.5 688.38h-2.2M358.5 684.52h2.2M576.5 684.52h-2.2M358.5 680.66h2.2M576.5 680.66h-2.2M358.5 676.8h4.4M576.5 676.8h-4.4M358.5 831.2v-3.1M358.5 676.8v3.1M365.77 831.2v-1.55M365.77 676.8v1.55M373.03 831.2v-1.55M373.03 676.8v1.55M380.3 831.2v-1.55M380.3 676.8v1.55M387.57 831.2v-1.55M387.57 676.8v1.55M394.83 831.2v-1.55M394.83 676.8v1.55M402.1 831.2v-1.55M402.1 676.8v1.55M409.37 831.2v-1.55M409.37 676.8v1.55M416.63 831.2v-1.55M416.63 676.8v1.55M423.9 831.2v-1.55M423.9 676.8v1.55M431.17 831.2v-3.1M431.17 676.8v3.1M438.43 831.2v-1.55M438.43 676.8v1.55M445.7 831.2v-1.55M445.7 676.8v1.55M452.97 831.2v-1.55M452.97 676.8v1.55M460.23 831.2v-1.55M460.23 676.8v1.55M467.5 831.2v-1.55M467.5 676.8v1.55M474.77 831.2v-1.55M474.77 676.8v1.55M482.03 831.2v-1.55M482.03 676.8v1.55M489.3 831.2v-1.55M489.3 676.8v1.55M496.57 831.2v-1.55M496.57 676.8v1.55M503.83 831.2v-3.1M503.83 676.8v3.1M511.1 831.2v-1.55M511.1 676.8v1.55M518.37 831.2v-1.55M518.37 676.8v1.55M525.63 831.2v-1.55M525.63 676.8v1.55M532.9 831.2v-1.55M532.9 676.8v1.55M540.17 831.2v-1.55M540.17 676.8v1.55M547.43 831.2v-1.55M547.43 676.8v1.55M554.7 831.2v-1.55M554.7 676.8v1.55M561.97 831.2v-1.55M561.97 676.8v1.55M569.23 831.2v-1.55M569.23 676.8v1.55M576.5 831.2v-3.1M576.5 676.8v3.1" stroke="#666" stroke-width="1.1" fill="none"/>
<text x="355.5" y="832.4" text-anchor="end" class="l">0</text>
<text x="355.5" y="798.1" text-anchor="end" class="l">100</text>
<text x="355.5" y="759.5" text-anchor="end" class="l">200</text>
<text x="355.5" y="720.9" text-anchor="end" class="l">300</text>
<text x="355.5" y="686.3" text-anchor="end" class="l">400</text>
<text x="358.5" y="848.7" text-anchor="middle" class="l">01:59:36</text>
<text x="431.17" y="848.7" text-anchor="middle" class="l">02:14:52</text>
<text x="503.83" y="848.7" text-anchor="middle" class="l">02:30:08</text>
<text x="576.5" y="848.7" text-anchor="middle" class="l">02:45:24</text>
<text x="467.6" y="862" text-anchor="middle" class="xt">Time (UT)</text>
<text x="367.7" y="670.5" class="t" textLength="88" lengthAdjust="spacing">He II 256.32</text>
<text x="463.7" y="670.5" class="t" textLength="102.3" lengthAdjust="spacing">(Quiet corona)</text>
<text transform="translate(323.7 835.4) rotate(-90)" class="yt" textLength="46.6" lengthAdjust="spacing">Intensity</text>
<text transform="translate(323.7 783.7) rotate(-90)" class="yt" textLength="22.8" lengthAdjust="spacing">(erg</text>
<text transform="translate(323.7 755) rotate(-90)" class="yt" textLength="16.9" lengthAdjust="spacing">cm</text>
<text transform="translate(318.5 737.3) rotate(-90)" class="ys" textLength="10.4" lengthAdjust="spacing">−2</text>
<text transform="translate(323.7 721.6) rotate(-90)" class="yt" textLength="5.9" lengthAdjust="spacing">s</text>
<text transform="translate(318.5 714.9) rotate(-90)" class="ys" textLength="8.6" lengthAdjust="spacing">−1</text>
<text transform="translate(323.7 699.6) rotate(-90)" class="yt" textLength="10.6" lengthAdjust="spacing">sr</text>
<text transform="translate(318.5 688.1) rotate(-90)" class="ys" textLength="9.2" lengthAdjust="spacing">−1</text>
<text transform="translate(323.7 678.8) rotate(-90)" class="yt" textLength="4.7" lengthAdjust="spacing">)</text>
</svg>
</body></html>
